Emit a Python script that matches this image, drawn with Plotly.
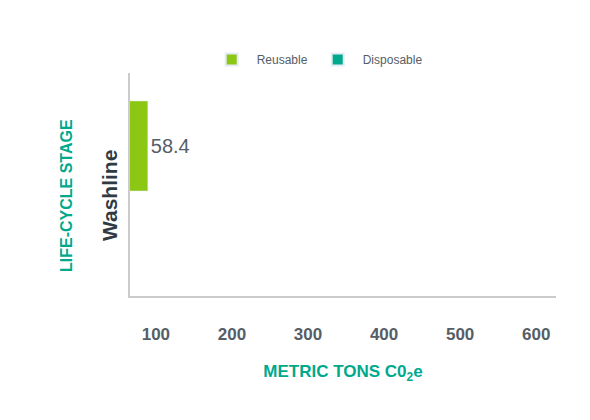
import plotly.graph_objects as go

series = ["Reusable", "Disposable"]
values = [58.4, 0]
colors = ["#8cc714", "#00a98c"]
stage = "Washline"
x_ticks = [100, 200, 300, 400, 500, 600]

x_min = 66   # left edge of the visible value axis
bar_base = 31  # bars start left of the visible axis, as in the source chart

fig = go.Figure()
for i, (name, v, c) in enumerate(zip(series, values, colors)):
    fig.add_trace(go.Bar(
        name=name, orientation="h", y=[i], x=[v], base=bar_base, width=1.0,
        marker_color=c, text=[f"{v:g}"], textposition="outside",
        textfont=dict(size=20, color="#555e66"), cliponaxis=True,
    ))

fig.update_layout(
    width=590, height=420, margin=dict(l=122, r=42, t=65, b=132),
    plot_bgcolor="white", paper_bgcolor="white",
    font=dict(family="Liberation Sans, Arial, sans-serif"),
    showlegend=True,
    legend=dict(orientation="h", x=0.18, xanchor="left", y=1.06, yanchor="middle",
                font=dict(size=12, color="#555e66"), itemwidth=40,
                itemsizing="constant", traceorder="normal"),
    xaxis=dict(range=[x_min, 626], tickvals=x_ticks, showgrid=False, zeroline=False,
               showline=True, linecolor="#cccccc", linewidth=1.5, automargin=False,
               ticks="", tickfont=dict(size=17, color="#555e66", weight="bold"),
               ticklabelstandoff=22,
               title=dict(text="<b>METRIC TONS C0<sub>2</sub>e</b>", standoff=22,
                          font=dict(size=17, color="#00a98c"))),
    yaxis=dict(range=[1.665, -0.81], showticklabels=False, showgrid=False, zeroline=False,
               showline=True, linecolor="#cccccc", linewidth=1.5, ticks="", automargin=False),
)
fig.add_annotation(text=f"<b>{stage}</b>", textangle=-90, x=-0.08, y=0.45,
                   xref="paper", yref="paper", showarrow=False,
                   font=dict(size=21, color="#2f3a42"))
fig.add_annotation(text="<b>LIFE-CYCLE STAGE</b>", textangle=-90, xref="paper", yref="paper",
                   x=-0.174, y=0.45, showarrow=False, font=dict(size=16, color="#00a98c"))

fig.write_html("out.html")
